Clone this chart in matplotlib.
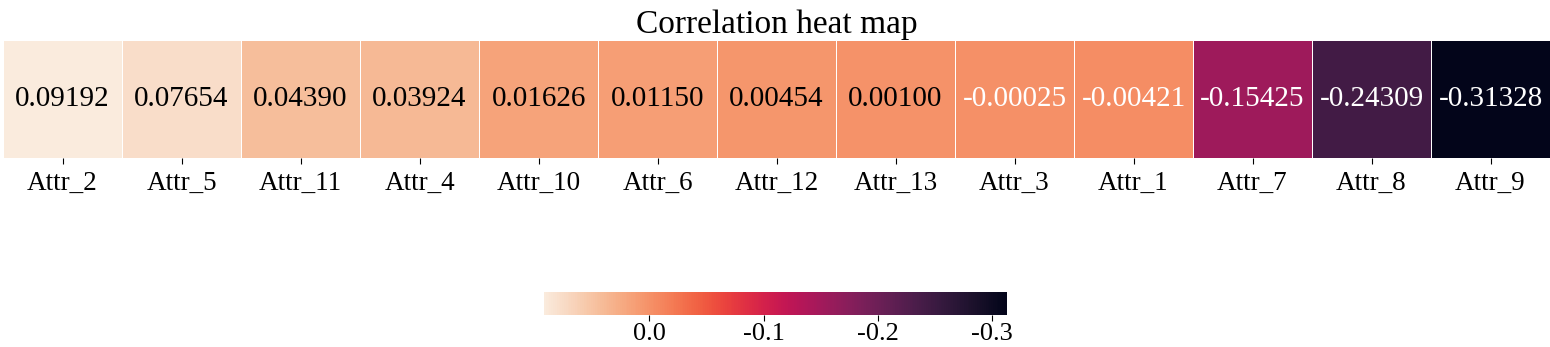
import matplotlib
matplotlib.use('Agg')
import matplotlib.pyplot as plt
import seaborn as sns
import numpy as np

# data
attrs = ['Attr_2', 'Attr_5', 'Attr_11', 'Attr_4', 'Attr_10', 'Attr_6', 'Attr_12',
         'Attr_13', 'Attr_3', 'Attr_1', 'Attr_7', 'Attr_8', 'Attr_9']
corr = [0.09192, 0.07654, 0.04390, 0.03924, 0.01626, 0.01150, 0.00454,
        0.00100, -0.00025, -0.00421, -0.15425, -0.24309, -0.31328]
cbar_ticks = [0.0, -0.1, -0.2, -0.3]

plt.rcParams['font.family'] = ['Liberation Serif', 'DejaVu Serif']

fig = plt.figure(figsize=(15.5, 3.47), dpi=100)
ax = fig.add_axes([0.002, 0.545, 0.998, 0.34])
cax = fig.add_axes([0.351, 0.092, 0.299, 0.066])

data = np.array(corr).reshape(1, -1)
sns.heatmap(data, ax=ax, cbar_ax=cax, cmap='rocket', annot=True, fmt='.5f',
            annot_kws={'fontsize': 21}, linewidths=0.7, linecolor='white',
            xticklabels=attrs, yticklabels=False,
            cbar_kws={'orientation': 'horizontal', 'ticks': cbar_ticks})

# text colour: dark text on the light cells, white on the darker ones
for t, v in zip(ax.texts, corr):
    t.set_color('black' if v > 0 else 'white')

ax.set_title('Correlation heat map', fontsize=24, pad=5)
ax.tick_params(axis='x', labelsize=19.5, length=4, pad=5, rotation=0)
cax.invert_xaxis()
cax.tick_params(labelsize=19, length=4, pad=2)
cax.set_xticklabels(['%.1f' % t for t in cbar_ticks])
for sp in cax.spines.values():
    sp.set_visible(False)

plt.savefig('out.png', dpi=100)
